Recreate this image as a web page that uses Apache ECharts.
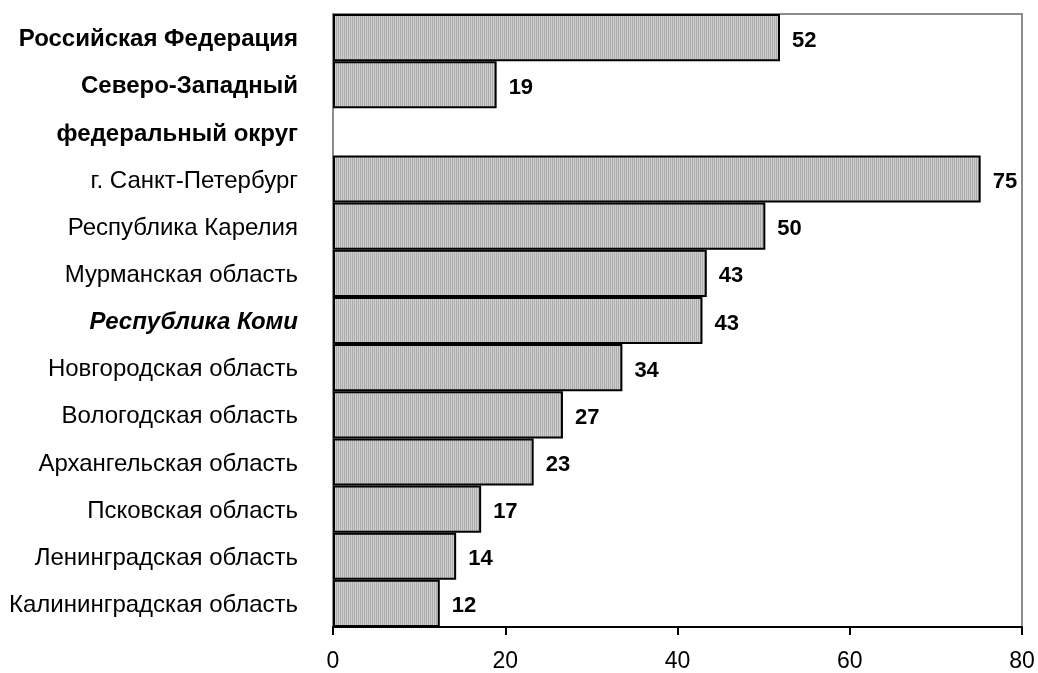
<!DOCTYPE html>
<html><head><meta charset="utf-8">
<script src="https://cdn.jsdelivr.net/npm/echarts@6/dist/echarts.min.js"></script>
<style>html,body{margin:0;padding:0;background:#fff}#c{width:1038px;height:673px}</style>
</head><body><div id="c"></div>
<script>
const categories = ['Российская Федерация','Северо-Западный','федеральный округ','г. Санкт-Петербург','Республика Карелия','Мурманская область','Республика Коми','Новгородская область','Вологодская область','Архангельская область','Псковская область','Ленинградская область','Калининградская область'];
const values = [51.9, 19.0, null, 75.2, 50.2, 43.4, 42.9, 33.6, 26.7, 23.3, 17.2, 14.3, 12.4];
const xTicks = [0, 20, 40, 60, 80];

const pc = document.createElement('canvas'); pc.width = 2; pc.height = 1;
const px = pc.getContext('2d');
px.fillStyle = '#acacac'; px.fillRect(0,0,1,1);
px.fillStyle = '#cfcfcf'; px.fillRect(1,0,1,1);

const FF = 'Liberation Sans, Arial';
const boldCats = ['Российская Федерация','Северо-Западный','федеральный округ'];
const chart = echarts.init(document.getElementById('c'));
chart.setOption({
  animation: false,
  grid: {left: 333, right: 16, top: 14, bottom: 45, show: true, borderColor: '#8c8c8c', borderWidth: 2},
  xAxis: {type: 'value', min: xTicks[0], max: xTicks[xTicks.length-1], interval: 20,
    axisLine: {show: true, lineStyle: {color: '#000', width: 2}},
    axisTick: {show: true, length: 8, lineStyle: {color: '#000', width: 2}},
    splitLine: {show: false},
    axisLabel: {color: '#000', fontSize: 23, fontFamily: FF, margin: 23}},
  yAxis: {type: 'category', inverse: true, data: categories,
    axisLine: {show: true, lineStyle: {color: '#8c8c8c', width: 2}},
    axisTick: {show: false},
    axisLabel: {fontFamily: FF, fontSize: 24, color: '#000', margin: 35, padding: [4, 0, 0, 0],
      formatter: function(v){ if (boldCats.indexOf(v) >= 0) return '{b|' + v + '}'; if (v === 'Республика Коми') return '{bi|' + v + '}'; return v; },
      rich: {b: {fontWeight: 'bold', fontSize: 24, fontFamily: FF}, bi: {fontWeight: 'bold', fontStyle: 'italic', fontSize: 24, fontFamily: FF}}}},
  series: [{type: 'bar', data: values, barCategoryGap: '0%',
    itemStyle: {color: {image: pc, repeat: 'repeat'}, borderColor: '#000', borderWidth: 2},
    label: {show: true, position: 'right', distance: 12, offset: [0, 3], color: '#000', fontWeight: 'bold', fontSize: 22, fontFamily: FF,
      formatter: function(p){ return p.value == null ? '' : Math.round(p.value); }}}]
});
</script></body></html>
